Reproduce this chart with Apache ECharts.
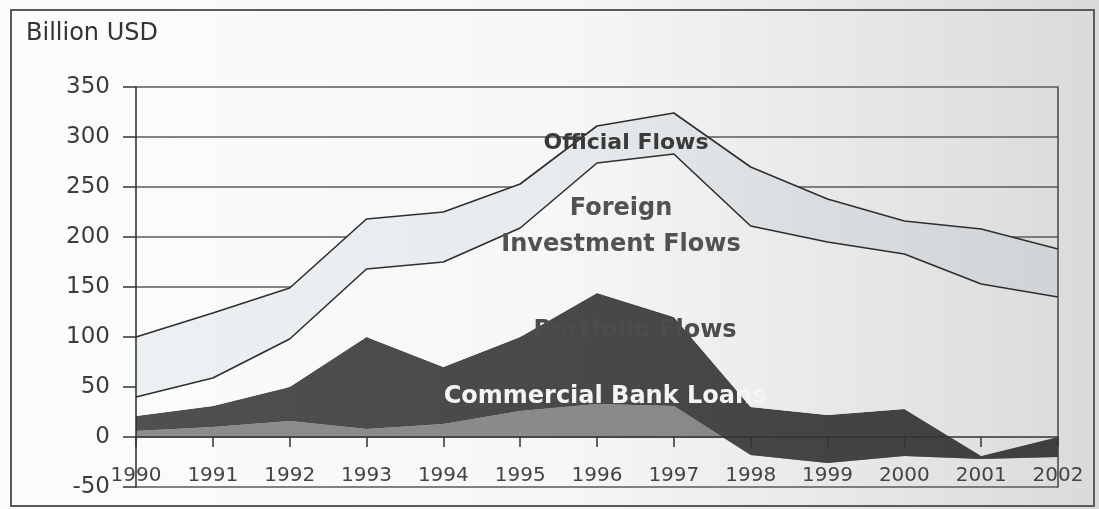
<!DOCTYPE html>
<html>
<head>
<meta charset="utf-8">
<script src="https://cdn.jsdelivr.net/npm/echarts@6/dist/echarts.min.js"></script>
<style>
  html, body { margin: 0; padding: 0; background: #ffffff; }
  #chart { width: 1099px; height: 509px; }
</style>
</head>
<body>
<div id="chart"></div>
<script>
// ---- data (billion USD), stacked bottom to top ----
const years = ['1990','1991','1992','1993','1994','1995','1996','1997','1998','1999','2000','2001','2002'];
const commercialBankLoans    = [6, 10, 16, 8, 13, 26, 33, 31, -18, -26, -19, -22, -20];
const portfolioFlows         = [15, 21, 34, 92, 57, 74, 111, 89, 48, 48, 47, 3, 20];
const foreignInvestmentFlows = [19, 28, 48, 68, 105, 109, 130, 163, 181, 173, 155, 172, 140];
const officialFlows          = [60, 65, 51, 50, 50, 44, 37, 41, 59, 43, 33, 55, 48];
const yMin = -50, yMax = 350, yStep = 50;
const unitLabel = 'Billion USD';
const areaLabels = ['Official Flows', 'Foreign', 'Investment Flows', 'Portfolio Flows', 'Commercial Bank Loans'];

const W = 1099;
function hgrad(stops) {
  return { type: 'linear', x: 0, y: 0, x2: W, y2: 0, global: true,
           colorStops: stops.map(s => ({ offset: s[0], color: s[1] })) };
}
const bg = hgrad([[0, '#fcfcfc'], [0.5, '#f7f7f7'], [0.75, '#e9e9e9'], [1, '#dadada']]);
const officialFill = hgrad([[0, '#edf2f4'], [0.5, '#e7ebed'], [0.75, '#dadddf'], [1, '#cfd2d4']]);
const darkFill = hgrad([[0, '#525252'], [0.6, '#474747'], [1, '#3e3e3e']]);
const loansFill = hgrad([[0, '#8e8e8e'], [1, '#858585']]);

const FONT = '"DejaVu Sans", Verdana, sans-serif';

function areaSeries(name, data, fill, stroke, z) {
  return {
    name, type: 'line', data, stack: 'total', stackStrategy: 'all',
    xAxisIndex: 0, yAxisIndex: 0,
    symbol: 'none', silent: true, z,
    lineStyle: stroke ? { color: '#2e2e2e', width: 1.6 } : { width: 0, opacity: 0 },
    areaStyle: { color: fill, opacity: 1 },
    emphasis: { disabled: true }
  };
}

const chart = echarts.init(document.getElementById('chart'), null, { renderer: 'canvas' });
chart.setOption({
  animation: false,
  backgroundColor: bg,
  grid: { left: 136, top: 87, width: 922, height: 400, containLabel: false, outerBoundsMode: 'none' },
  xAxis: [
    {
      type: 'category', data: years, boundaryGap: false, z: 10,
      axisLine: { show: true, onZero: true, onZeroAxisIndex: 0, lineStyle: { color: '#333', width: 1.5 } },
      axisTick: { show: true, length: 10, lineStyle: { color: '#333', width: 1.5 } },
      axisLabel: { show: false },
      splitLine: { show: false }
    },
    {
      type: 'category', data: years, boundaryGap: false, position: 'bottom', z: 10,
      axisLine: { show: false, onZero: false }, axisTick: { show: false },
      axisLabel: { interval: 0, margin: -21, color: '#444', fontSize: 20, fontFamily: FONT },
      splitLine: { show: false }
    }
  ],
  yAxis: [
    {
      type: 'value', min: yMin, max: yMax, interval: yStep, position: 'left',
      axisLine: { show: false }, axisTick: { show: false },
      axisLabel: { margin: 26, color: '#3c3c3c', fontSize: 23, fontFamily: FONT },
      splitLine: { show: true, lineStyle: { color: '#5a5a5a', width: 1.5 } }
    },
    {
      type: 'value', min: yMin, max: yMax, interval: yStep, position: 'left', z: 10,
      axisLine: { show: true, onZero: false, lineStyle: { color: '#2a2a2a', width: 1.5 } },
      axisTick: { show: true, length: 13, lineStyle: { color: '#333', width: 1.5 } },
      axisLabel: { show: false }, splitLine: { show: false }
    },
    {
      type: 'value', min: yMin, max: yMax, interval: yStep, position: 'right', z: 10,
      axisLine: { show: true, onZero: false, lineStyle: { color: '#444', width: 1.5 } },
      axisTick: { show: false }, axisLabel: { show: false }, splitLine: { show: false }
    }
  ],
  series: [
    areaSeries('Commercial Bank Loans', commercialBankLoans, loansFill, false, 2),
    areaSeries('Portfolio Flows', portfolioFlows, darkFill, false, 2),
    areaSeries('Foreign Investment Flows', foreignInvestmentFlows, bg, true, 4),
    areaSeries('Official Flows', officialFlows, officialFill, true, 3)
  ],
  graphic: [
    { type: 'rect', z: 100, silent: true,
      shape: { x: 11, y: 10, width: 1083, height: 496 },
      style: { fill: 'none', stroke: '#5a5a5a', lineWidth: 2 } },
    { type: 'text', z: 100, x: 26, y: 34, silent: true,
      style: { text: unitLabel, font: '24px ' + FONT, fill: '#333', align: 'left', verticalAlign: 'middle' } },
    { type: 'text', z: 100, x: 626, y: 143, silent: true,
      style: { text: areaLabels[0], font: 'bold 22px ' + FONT, fill: '#3a3a3a', align: 'center', verticalAlign: 'middle' } },
    { type: 'text', z: 100, x: 621, y: 209, silent: true,
      style: { text: areaLabels[1], font: 'bold 24px ' + FONT, fill: '#525252', align: 'center', verticalAlign: 'middle' } },
    { type: 'text', z: 100, x: 621, y: 245, silent: true,
      style: { text: areaLabels[2], font: 'bold 24px ' + FONT, fill: '#525252', align: 'center', verticalAlign: 'middle' } },
    { type: 'text', z: 100, x: 635, y: 331, silent: true,
      style: { text: areaLabels[3], font: 'bold 24px ' + FONT, fill: '#4c4c4c', align: 'center', verticalAlign: 'middle' } },
    { type: 'text', z: 100, x: 605, y: 397, silent: true,
      style: { text: areaLabels[4], font: 'bold 24px ' + FONT, fill: '#f4f4f4', align: 'center', verticalAlign: 'middle' } }
  ]
});
</script>
</body>
</html>
